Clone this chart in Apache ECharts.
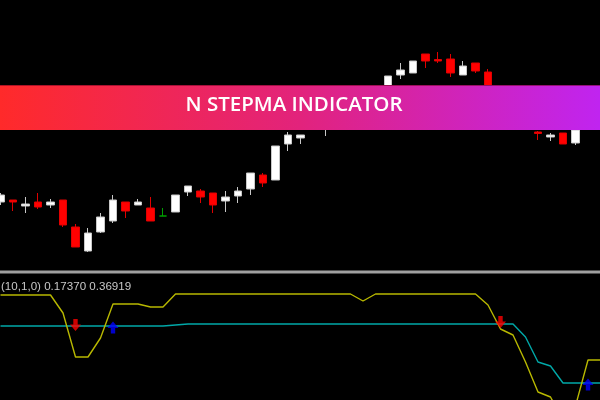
<!DOCTYPE html>
<html><head><meta charset="utf-8">
<script src="https://cdn.jsdelivr.net/npm/echarts@6/dist/echarts.min.js"></script>
<style>html,body{margin:0;padding:0;background:#000;overflow:hidden;width:600px;height:400px}
#c{position:absolute;left:-6px;top:0;width:613px;height:400px}</style>
</head><body><div id="c"></div><script>
// bar index labels
const categories = ['0','1','2','3','4','5','6','7','8','9','10','11','12','13','14','15','16','17','18','19','20','21','22','23','24','25','26','27','28','29','30','31','32','33','34','35','36','37','38','39','40','41','42','43','44','45','46','47','48'];
// candle prices (arbitrary price units)
const opens  = [98,100,94,98,95,100,73,49,68,79,98,95,92,84,88,108,109,107,99,104,111,125,120,156,162,172,176,188,196,203,194,204,225,227,246,240.5,241,225,237,228,204,192,185,168,163,167,157,'-','-'];
const closes = [105,98,96,93,98,75,53,67,83,100,89,98,79,84,105,114,103,95,103,109,127,117,154,165,165,182,190,198,204,195,206,224,230,239,239,239,227,234,229,205,192,182,176,166.5,165,156,170,'-','-'];
const lows   = [95,89,87,91,92,73,53,48,67,77,82,95,79,84,88,104,97,87,88,97,105,113,120,149,156,171,164,184,192,190,188,200,221,227,232,237,223,225,227,202,188,178,172,160,159,156,155,'-','-'];
const highs  = [107,100,103,107,101,100,76,72,87,105,98,101,103,92,105,114,111,107,109,113,127,127,154,168,165,186,194,202,208,206,210,224,237,239,246,248,246,239,237,231,208,196,188,169,167,167,172,'-','-'];
const dojiIndex = 13;
// indicator values
const stepFast = [105,105,105,105,105,87,43,43,62,96,96,96,93,93,106,106,106,106,106,106,106,106,106,106,106,106,106,106,106,99,106,106,106,106,106,106,106,106,106,95,71,65,38,8,3,-20,-6,40,40];
const stepSlow = [74,74,74,74,74,74,74,74,74,74,74,74,74,74,75,76,76,76,76,76,76,76,76,76,76,76,76,76,76,76,76,76,76,76,76,76,76,76,76,76,76,76,63,38,34,17,17,17,17];
const sellArrows = [[6, 75], [40, 78]];
const buyArrows = [[9, 72.5], [47, 15.5]];
const indicatorLabel = '(10,1,0) 0.17370 0.36919';
const bannerTitle = 'N STEPMA INDICATOR';

const OX = 6; // container is shifted left by this many pixels
const candleData = opens.map((o, i) => {
  if (o === '-') return '-';
  const v = [o, closes[i], lows[i], highs[i]];
  if (i === dojiIndex) return {value: v, itemStyle: {color: '#00a000', color0: '#00a000', borderColor: '#00a000', borderColor0: '#00a000'}};
  return v;
});

const downArrow = 'path://M3,0 L7,0 L7,4.5 L10,4.5 L5,10 L0,4.5 L3,4.5 Z';
const upArrow = 'path://M5,0 L10,5.5 L7,5.5 L7,10 L3,10 L3,5.5 L0,5.5 Z';

const chart = echarts.init(document.getElementById('c'));
const xBase = {type: 'category', data: categories, boundaryGap: true, show: false};
chart.setOption({
  animation: false,
  backgroundColor: '#000',
  grid: [
    {left: 0.25, width: 612.5, top: 0, height: 272},
    {left: 0.25, width: 612.5, top: 275, height: 125}
  ],
  xAxis: [Object.assign({gridIndex: 0}, xBase), Object.assign({gridIndex: 1}, xBase)],
  yAxis: [
    {gridIndex: 0, type: 'value', min: 28, max: 300, show: false, splitLine: {show: false}},
    {gridIndex: 1, type: 'value', min: 0, max: 125, show: false, splitLine: {show: false}}
  ],
  series: [
    {type: 'candlestick', xAxisIndex: 0, yAxisIndex: 0, data: candleData, barWidth: 8,
     itemStyle: {color: '#ffffff', color0: '#ff0000', borderColor: '#c8c8c8', borderColor0: '#e00000', borderWidth: 1}},
    {type: 'line', xAxisIndex: 1, yAxisIndex: 1, data: stepSlow, symbol: 'none', lineStyle: {color: '#00a8a8', width: 1.4}},
    {type: 'line', xAxisIndex: 1, yAxisIndex: 1, data: stepFast, symbol: 'none', lineStyle: {color: '#b8b800', width: 1.4}},
    {type: 'scatter', xAxisIndex: 1, yAxisIndex: 1, data: sellArrows, symbol: downArrow, symbolSize: [11, 12], itemStyle: {color: '#ff0000'}, z: 5},
    {type: 'scatter', xAxisIndex: 1, yAxisIndex: 1, data: buyArrows, symbol: upArrow, symbolSize: [11, 12], itemStyle: {color: '#0000ff'}, z: 5}
  ],
  graphic: [
    {type: 'rect', z: 50, shape: {x: 0, y: 270.5, width: 613, height: 3}, style: {fill: '#a0a0a0'}},
    {type: 'text', z: 50, left: 1 + OX, top: 281, style: {text: indicatorLabel, fill: '#c8c8c8', font: '11.6px "Liberation Sans", Arial, sans-serif'}},
    {type: 'rect', z: 100, shape: {x: OX, y: 85, width: 600, height: 45},
     style: {fill: new echarts.graphic.LinearGradient(0, 0, 1, 0, [
       {offset: 0, color: '#ff2a2a'}, {offset: 0.5, color: '#e2237c'}, {offset: 1, color: '#c024f0'}])}},
    {type: 'rect', z: 101, shape: {x: OX, y: 85, width: 600, height: 1}, style: {fill: 'rgba(110,0,30,0.55)'}},
    {type: 'text', z: 102, x: 294 + OX, y: 105, style: {text: bannerTitle, fill: '#ffffff', align: 'center', verticalAlign: 'middle', font: '600 20.5px "Open Sans", sans-serif'}}
  ]
});
</script></body></html>
